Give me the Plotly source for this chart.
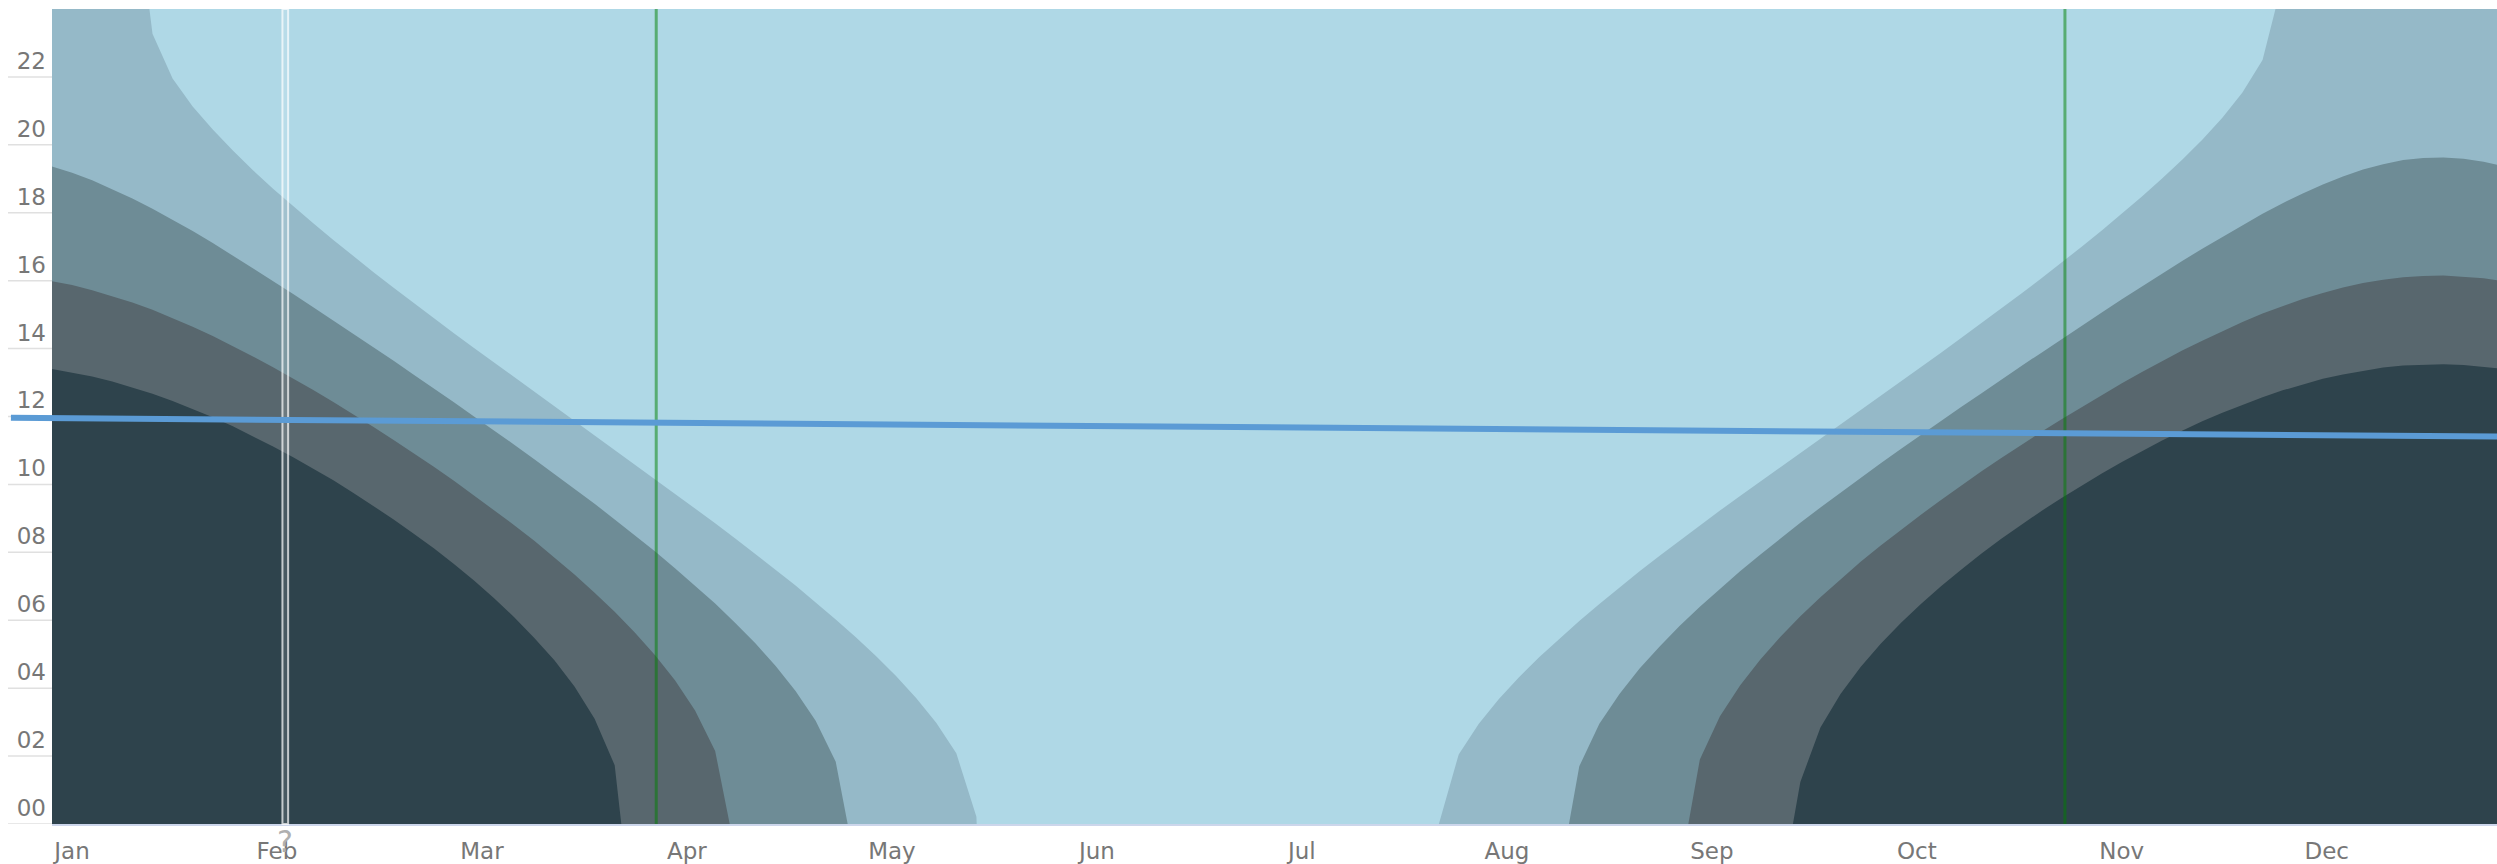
import plotly.graph_objects as go

# ---------------- data (hours) ----------------
days = list(range(0, 364, 3)) + [365]          # day of year (0 = 1 Jan)

night_top = ([13.40, 13.30, 13.18, 13.03, 12.86, 12.67, 12.46, 12.23, 11.98, 11.71,
              11.42, 11.12, 10.80, 10.47, 10.12, 9.75, 9.37, 8.97, 8.55, 8.12,
              7.66, 7.17, 6.65, 6.09, 5.48, 4.82, 4.05, 3.10, 1.73]
             + [0.0] * 58 +
             [1.24, 2.84, 3.83, 4.62, 5.31, 5.92, 6.48, 7.00, 7.49, 7.96,
              8.40, 8.82, 9.22, 9.60, 9.97, 10.32, 10.66, 10.98, 11.29, 11.58,
              11.86, 12.11, 12.35, 12.57, 12.77, 12.95, 13.11, 13.24, 13.35, 13.44,
              13.50, 13.53, 13.54, 13.52, 13.47, 13.42])

astro_top = ([15.98, 15.87, 15.72, 15.55, 15.36, 15.14, 14.90, 14.64, 14.37, 14.08,
              13.77, 13.45, 13.12, 12.78, 12.43, 12.07, 11.69, 11.31, 10.92, 10.52,
              10.11, 9.68, 9.25, 8.80, 8.34, 7.85, 7.35, 6.81, 6.25, 5.64,
              4.98, 4.23, 3.34, 2.15]
             + [0.0] * 48 +
             [1.90, 3.17, 4.08, 4.84, 5.51, 6.12, 6.68, 7.21, 7.72, 8.20,
              8.66, 9.11, 9.54, 9.97, 10.38, 10.78, 11.17, 11.55, 11.92, 12.28,
              12.63, 12.98, 13.31, 13.63, 13.94, 14.23, 14.51, 14.78, 15.03, 15.25,
              15.46, 15.64, 15.80, 15.93, 16.03, 16.10, 16.14, 16.15, 16.12, 16.07,
              16.01])

nautical_top = ([19.36, 19.18, 18.96, 18.70, 18.42, 18.12, 17.80, 17.46, 17.11, 16.74,
                 16.37, 16.00, 15.61, 15.22, 14.83, 14.44, 14.04, 13.64, 13.23, 12.83,
                 12.42, 12.00, 11.59, 11.17, 10.74, 10.31, 9.87, 9.43, 8.97, 8.51,
                 8.03, 7.53, 7.02, 6.49, 5.92, 5.32, 4.66, 3.92, 3.04, 1.83]
                + [0.0] * 36 +
                [1.70, 2.95, 3.83, 4.58, 5.23, 5.84, 6.40, 6.93, 7.44, 7.93,
                 8.41, 8.87, 9.32, 9.76, 10.19, 10.62, 11.04, 11.46, 11.87, 12.28,
                 12.68, 13.09, 13.49, 13.88, 14.28, 14.67, 15.06, 15.45, 15.83, 16.20,
                 16.58, 16.94, 17.29, 17.64, 17.97, 18.28, 18.57, 18.83, 19.07, 19.27,
                 19.43, 19.55, 19.61, 19.63, 19.59, 19.50, 19.41])

civil_top = ([24.0] * 5 +
             [23.27, 21.95, 21.13, 20.45, 19.83, 19.25, 18.71, 18.19, 17.69, 17.20,
              16.72, 16.25, 15.79, 15.34, 14.89, 14.45, 14.02, 13.59, 13.16, 12.73,
              12.30, 11.88, 11.45, 11.03, 10.60, 10.17, 9.74, 9.30, 8.86, 8.41,
              7.96, 7.49, 7.02, 6.53, 6.02, 5.50, 4.95, 4.36, 3.71, 2.98,
              2.08, 0.21]
             + [0.0] * 23 +
             [2.05, 2.95, 3.68, 4.32, 4.91, 5.46, 5.98, 6.48, 6.97, 7.44,
              7.90, 8.35, 8.79, 9.23, 9.66, 10.08, 10.51, 10.93, 11.35, 11.77,
              12.19, 12.61, 13.03, 13.45, 13.88, 14.31, 14.74, 15.18, 15.62, 16.07,
              16.53, 17.00, 17.48, 17.97, 18.48, 19.01, 19.56, 20.15, 20.80, 21.54,
              22.50]
             + [24.0] * 12)

# (day, hours) points where a band edge meets the bottom / top of the chart
night_edges = [(84.99, 0.0), (259.89, 0.0)]
astro_edges = [(101.17, 0.0), (244.28, 0.0)]
nautical_edges = [(118.78, 0.0), (226.46, 0.0)]
civil_edges = [(14.54, 24.0), (138.04, 0.0), (207.04, 0.0), (331.93, 24.0)]

month_labels = ["Jan", "Feb", "Mar", "Apr", "May", "Jun",
                "Jul", "Aug", "Sep", "Oct", "Nov", "Dec"]
month_ticks = [0, 30.6, 61.2, 91.8, 122.4, 153.0, 183.6, 214.2, 244.8, 275.4, 306.0, 336.6]
hour_ticks = [0, 2, 4, 6, 8, 10, 12, 14, 16, 18, 20, 22]
hour_labels = ["%02d" % h for h in hour_ticks]

dst_days = [90.2, 300.5]                 # green marker lines
today_band = [34.4, 35.25]               # white marker band
trend_x_paper = [-0.0168, 1.0]           # blue line ends
trend_hours = [11.96, 11.41]

# ---------------- styling ----------------
C_DAY = "#afd8e6"
C_CIVIL = "#95b9c8"
C_NAUT = "#6e8c96"
C_ASTRO = "#58676e"
C_NIGHT = "#2e434c"
LABEL_FONT = "DejaVu Sans, Verdana, sans-serif"
LABEL_COLOR = "#777777"

fig = go.Figure()

layers = [
    ("civil twilight", civil_top, civil_edges, C_CIVIL),
    ("nautical twilight", nautical_top, nautical_edges, C_NAUT),
    ("astronomical twilight", astro_top, astro_edges, C_ASTRO),
    ("night", night_top, night_edges, C_NIGHT),
]
for name, vals, edges, col in layers:
    pts = sorted(list(zip(days, vals)) + edges)
    fig.add_trace(go.Scatter(
        x=[p[0] for p in pts], y=[p[1] for p in pts], name=name,
        mode="lines", line=dict(width=0, color=col), fill="tozeroy",
        fillcolor=col, hoverinfo="skip", showlegend=False))

shapes = []
# y-axis tick strokes left of plot
for h in hour_ticks:
    shapes.append(dict(type="line", xref="paper", yref="y", x0=-0.018, x1=0.0, y0=h, y1=h,
                       line=dict(color="#e0e0e0", width=1.5), layer="above"))
# white "today" band
shapes.append(dict(type="rect", xref="x", yref="paper", x0=today_band[0], x1=today_band[1],
                   y0=0, y1=1, fillcolor="rgba(255,255,255,0.12)",
                   line=dict(color="rgba(255,255,255,0.7)", width=2), layer="above"))
# green lines
for d in dst_days:
    shapes.append(dict(type="line", xref="x", yref="paper", x0=d, x1=d, y0=0, y1=1,
                       line=dict(color="rgba(0,128,0,0.5)", width=3), layer="above"))
# blue trend line
shapes.append(dict(type="line", xref="paper", yref="y",
                   x0=trend_x_paper[0], x1=trend_x_paper[1], y0=trend_hours[0], y1=trend_hours[1],
                   line=dict(color="#5b9bd5", width=6), layer="above"))

fig.add_annotation(x=(today_band[0] + today_band[1]) / 2, y=0, xref="x", yref="paper",
                   yanchor="top", yshift=2, text="?", showarrow=False,
                   font=dict(family=LABEL_FONT, size=30, color="#b0b0b0"))

fig.update_layout(
    width=2497, height=864,
    margin=dict(l=52, r=0, t=9, b=37),
    paper_bgcolor="white", plot_bgcolor=C_DAY,
    shapes=shapes,
    font=dict(family=LABEL_FONT, color=LABEL_COLOR, size=23),
    xaxis=dict(range=[0, 365], tickmode="array", tickvals=month_ticks, ticktext=month_labels,
               showgrid=False, zeroline=False, ticks="", showline=True, linecolor="#ccd6eb",
               linewidth=1.5, ticklabelshift=20, ticklabelstandoff=6,
               tickfont=dict(family=LABEL_FONT, size=23, color=LABEL_COLOR)),
    yaxis=dict(range=[0, 24], tickmode="array", tickvals=hour_ticks, ticktext=hour_labels,
               showgrid=False, zeroline=False, ticks="", ticklabelposition="outside top",
               ticklabelstandoff=5, tickfont=dict(family=LABEL_FONT, size=23, color=LABEL_COLOR)),
)

fig.write_html("out.html", config={"displayModeBar": False},
               post_script="document.body.style.margin='0px';document.body.style.overflow='hidden';")
